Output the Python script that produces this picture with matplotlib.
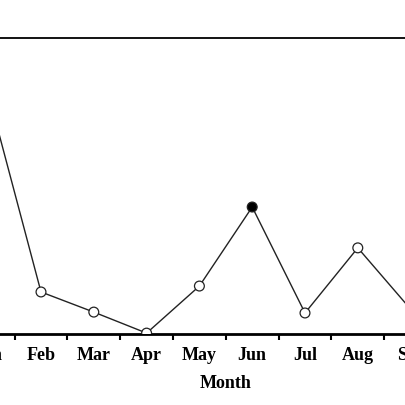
import numpy as np
import matplotlib
matplotlib.use("Agg")
import matplotlib.pyplot as plt

months = ['Jan', 'Feb', 'Mar', 'Apr', 'May', 'Jun', 'Jul', 'Aug', 'Sep']
values = [81.4, 14.2, 7.4, 0.3, 16.2, 42.9, 7.1, 29.1, 8.4]
highlight = 'Jun'

plt.rcParams['font.family'] = ['Liberation Serif', 'DejaVu Serif']

fig = plt.figure(figsize=(4.05, 4.05), dpi=100)
# the panel is wider than the figure: Jan and Sep are cut at the edges
left_px, width_px = -38.2, 475.2
ax = fig.add_axes([left_px / 405, 71 / 405, width_px / 405, 296 / 405])

x = np.arange(len(months))
ax.plot(x, values, color='#222222', linewidth=1.0, zorder=2)
face = ['black' if m == highlight else 'white' for m in months]
ax.scatter(x, values, s=50, facecolors=face, edgecolors='#222222',
           linewidths=0.9, zorder=3)

ax.spines['left'].set_visible(False)
ax.spines['right'].set_visible(False)
ax.spines['bottom'].set_linewidth(2.0)
ax.spines['top'].set_linewidth(1.3)

ax.set_yticks([])
ax.set_xticks(x)
ax.set_xticklabels(months, fontsize=13, fontweight='bold')
ax.tick_params(axis='x', which='major', length=0, pad=9)
ax.set_xticks(x[:-1] + 0.5, minor=True)
ax.tick_params(axis='x', which='minor', length=4, width=1.5, direction='out')

ax.set_xlim(-0.5, len(months) - 0.5)
ax.set_ylim(0, 100)

ax.set_xlabel('Month', fontsize=13, fontweight='bold')
ax.xaxis.set_label_coords((226 - left_px) / width_px, -54 / 296,
                          transform=ax.transAxes)
ax.xaxis.label.set_va('baseline')

fig.savefig('out.png', dpi=100)
